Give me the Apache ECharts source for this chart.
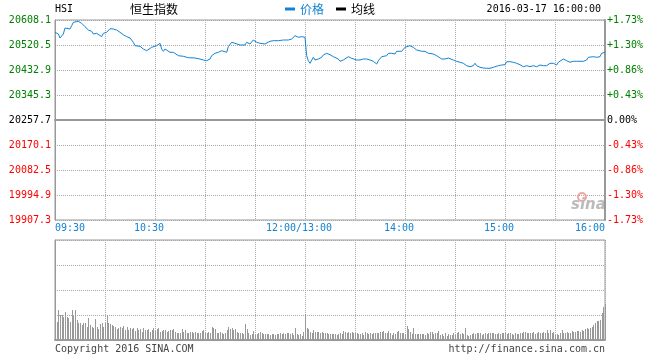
<!DOCTYPE html>
<html><head><meta charset="utf-8">
<script src="https://cdn.jsdelivr.net/npm/echarts@6/dist/echarts.min.js"></script>
<style>html,body{margin:0;padding:0;background:#fff}#c{width:660px;height:360px}</style>
</head><body><div id="c"></div>
<script>
// previous close and axis step (index points)
const preClose = 20257.7;
const priceStep = 87.6;

// [minute since 09:30 (trading minutes), price]
const morningPrices = [
[0,20565.0],[2,20559.0],[3,20545.0],[5,20559.0],[6,20580.1],[7,20573.1],[9,20576.6],[10,20588.1],[11,20600.0],[12,20605.6],
[14,20603.5],[16,20596.5],[18,20584.6],[20,20573.1],[22,20568.5],[23,20559.0],[24,20553.1],[25,20561.5],[26,20556.6],[28,20549.6],
[29,20561.5],[30,20568.5],[31,20565.0],[32,20568.5],[33,20577.6],[35,20576.6],[37,20573.1],[39,20565.0],[41,20556.6],[43,20549.6],
[45,20545.0],[47,20530.0],[48,20518.0],[49,20512.4],[51,20515.9],[52,20518.0],[53,20506.5],[55,20500.5],[56,20506.5],[58,20512.4],
[59,20512.4],[61,20518.0],[62,20512.4],[63,20526.5],[64,20506.5],[65,20498.4],[66,20506.5],[67,20500.5],[69,20494.9],[71,20494.9],
[72,20489.0],[74,20483.0],[75,20486.5],[77,20480.9],[78,20477.4],[80,20476.0],[84,20474.9],[85,20477.4],[87,20471.4],[89,20467.9],
[90,20471.4],[91,20465.5],[93,20471.4],[94,20483.0],[96,20491.4],[98,20494.9],[100,20500.5],[101,20503.0],[103,20494.9],[104,20514.5],
[106,20530.0],[107,20533.5],[108,20526.5],[109,20530.0],[111,20520.5],[112,20518.0],[114,20520.5],[115,20530.0],[117,20524.0],[118,20518.0],
[119,20538.0],[120,20533.5],[121,20530.0],[122,20532.1],[123,20526.5],[124,20530.0],[126,20524.0],[127,20530.0],[129,20533.5],[131,20535.6],
[132,20538.0],[134,20535.6],[135,20535.6],[137,20538.0],[138,20533.5],[140,20538.0],[142,20541.5],[143,20547.5],[144,20553.1],[146,20547.5],
[148,20549.6],[150,20547.5]
];
const afternoonPrices = [
[151,20483.0],[152,20465.5],[153,20456.4],[155,20477.4],[156,20467.9],[157,20463.4],[158,20471.4],[160,20477.4],[161,20485.5],[163,20491.4],
[165,20486.5],[167,20479.5],[168,20483.0],[170,20471.4],[171,20463.4],[173,20467.9],[174,20474.9],[176,20479.5],[178,20473.9],[179,20467.9],
[181,20467.9],[183,20467.9],[185,20471.4],[187,20471.4],[189,20467.9],[191,20463.4],[193,20453.9],[194,20465.5],[196,20479.5],[197,20479.5],
[199,20483.0],[200,20491.4],[202,20491.4],[204,20489.0],[205,20498.4],[206,20491.4],[208,20498.4],[209,20498.4],[210,20512.4],[211,20518.0],
[213,20518.0],[214,20512.4],[215,20512.4],[217,20503.0],[218,20500.5],[220,20498.4],[221,20503.0],[222,20498.4],[224,20491.4],[225,20494.9],
[227,20489.0],[229,20483.0],[230,20477.4],[232,20471.4],[233,20465.5],[234,20471.4],[236,20474.9],[237,20471.4],[239,20467.9],[241,20463.4],
[242,20459.9],[245,20456.4],[247,20448.0],[249,20444.5],[251,20448.0],[252,20456.4],[253,20448.0],[255,20442.4],[257,20439.9],[259,20438.9],
[261,20438.9],[263,20442.4],[264,20448.0],[266,20448.0],[268,20450.4],[270,20451.5],[271,20462.0],[273,20462.0],[275,20459.9],[276,20453.9],
[277,20456.4],[279,20451.5],[280,20456.4],[281,20444.5],[283,20448.0],[285,20444.5],[287,20448.0],[288,20451.5],[289,20444.5],[291,20450.4],
[293,20448.0],[294,20453.9],[295,20448.0],[297,20456.4],[298,20463.4],[299,20456.4],[301,20450.4],[302,20459.9],[303,20465.5],[305,20471.4],
[307,20465.5],[308,20465.5],[309,20459.9],[311,20463.4],[313,20463.4],[315,20463.4],[317,20463.4],[319,20467.9],[320,20477.4],[321,20477.4],
[323,20479.5],[325,20477.4],[327,20479.5],[328,20491.4],[329,20494.9],[330,20494.9]
];

// volume per minute (relative units, index = minute 0..330)
const volumes = [
18,
18.3,30,25,25,23.3,28.3,23.3,21.7,18.3,30,
24,30,20,17.3,16.7,15,17.3,16.7,13.3,21.7,
15,13.3,11.7,20.7,13.3,10.7,16,17.3,13.3,16.7,
25,17.3,16,15,14,13.3,10.7,11.7,13.3,11.7,
14,10,13.3,10,11.7,10.7,11.7,9.3,11.7,10,
10.7,8.3,12.3,10,10,10.7,8.3,10,11.7,9.3,
10.7,11.7,8.3,9.3,10,10,8.3,9.3,10,10,
10.7,8.3,6.7,7.3,6.7,10.7,8.3,10,6.7,7.3,
8.3,8.3,7.3,8.3,6.7,6.7,6.7,9.3,10,7.3,
6.7,8.3,7.3,12.7,11.7,10.7,7.3,6.7,8.3,6.7,
6,7.3,10,12.7,10.7,12.3,10,10.7,8.3,7.3,
6.7,6.7,6,16,10.7,7.3,5,6,9.3,5,
6,7.3,8.3,6.7,6,6,6,6,5,6,
6,5,6,6,6.7,6,6.7,6,7.3,6.7,
6,6.7,5,11.7,6,5,6,4,8.3,25.7,
11.7,10.7,8.3,6.7,10,8.3,8.3,8.3,7.3,8.3,
7.3,6.7,6.7,
6,6,6,6,6,5,6,7.3,6,9.3,
8.3,6.7,8.3,6.7,8.3,7.3,7.3,6.7,6,6,
7.3,5,8.3,6.7,6,7.3,6,6.7,6.7,6.7,
7.3,8.3,8.3,9.3,6.7,7.3,9.3,6.7,5,6.7,
6,8.3,9.3,7.3,7.3,6.7,6,14,10.7,8.3,
6,11.7,6,6,6,6,6,6,5,6.7,
6,8.3,8.3,6,6.7,6.7,9.3,5,6,4,
6.7,4,6,5,5,6.7,5,6.7,8.3,6,
6.7,6,11.7,5,4,5,6,7.3,6,6.7,
7.3,7.3,5,6,6.7,6,6.7,6.7,7.3,6.7,
6,6,7.3,6,7.3,7.3,6.7,6,6.7,6.7,
6,5,6.7,6,6,7.3,7.3,8.3,8.3,6.7,
6.7,7.3,6.7,8.3,6,6.7,8.3,6.7,7.3,8.3,
6.7,10,7.3,10,6.7,8.3,5,6,5,7.3,
10,7.3,7.3,8.3,7.3,7.3,9.3,8.3,8.3,9.3,
9.3,8.3,10,9.3,10.7,11.7,10.7,11.7,13.3,15,
16.7,19.3,19.3,20,26.7,33.3,
36
];

const tickMinutes = [0, 60, 150, 210, 270, 330];
const tickLabels = ['09:30', '10:30', '12:00/13:00', '14:00', '15:00', '16:00'];

const mono = 'DejaVu Sans Mono';
const cjk = 'Noto Sans CJK SC';
const blue = '#1383d1';
const grey = '#aaa';
const clear = 'rgba(0,0,0,0)';
const gridLine = {show: true, lineStyle: {color: grey, width: 1, type: [1, 1]}};
const border = {show: true, lineStyle: {color: '#999', width: 2}};

function levelColor(v) {
  v = Number(v);
  if (Math.abs(v) < 0.05) return '#000';
  return v > 0 ? '#008000' : '#ff0000';
}

const priceData = morningPrices.concat(afternoonPrices).map(d => [d[0], +(d[1] - preClose).toFixed(1)]);
const volData = volumes.map((v, i) => [i, v]);

const chart = echarts.init(document.getElementById('c'));
chart.setOption({
  animation: false,
  backgroundColor: '#fff',
  textStyle: {fontFamily: mono},
  title: [
    {text: 'HSI', left: 55, top: 4, padding: 0, textStyle: {fontFamily: mono, fontSize: 10, fontWeight: 'normal', color: '#000'}},
    {text: '恒生指数', left: 130, top: 3, padding: 0, textStyle: {fontFamily: cjk, fontSize: 12, fontWeight: 'normal', color: '#000'}},
    {text: '2016-03-17 16:00:00', right: 59, top: 4, padding: 0, textStyle: {fontFamily: mono, fontSize: 10, fontWeight: 'normal', color: '#000'}},
    {text: 'Copyright 2016 SINA.COM', left: 55, top: 344, padding: 0, textStyle: {fontFamily: mono, fontSize: 10, fontWeight: 'normal', color: '#444'}},
    {text: 'http://finance.sina.com.cn', right: 55, top: 344, padding: 0, textStyle: {fontFamily: mono, fontSize: 10, fontWeight: 'normal', color: '#444'}}
  ],
  legend: {
    left: 285, top: 3, padding: 0, icon: 'rect', itemWidth: 10, itemHeight: 3, itemGap: 12,
    textStyle: {fontFamily: cjk, fontSize: 12},
    data: [{name: '价格', textStyle: {color: blue}}, {name: '均线', textStyle: {color: '#000'}}]
  },
  graphic: [
    {type: 'circle', shape: {cx: 582, cy: 197, r: 4}, style: {fill: 'none', stroke: '#f3a5a5', lineWidth: 2}, silent: true},
    {type: 'text', x: 571, y: 198, style: {text: 'sina', fill: '#bbb', font: 'italic bold 15px "DejaVu Sans"'}, silent: true}
  ],
  grid: [
    {left: 55, top: 20, width: 550, height: 200, show: true, borderColor: '#999', borderWidth: 1},
    {left: 55, top: 240, width: 550, height: 100, show: true, borderColor: '#999', borderWidth: 1}
  ],
  xAxis: [
    {
      type: 'value', gridIndex: 0, min: 0, max: 330, interval: 30,
      axisLine: border, axisTick: {show: false}, splitLine: gridLine,
      axisLabel: {
        show: true, margin: 3, color: blue, fontFamily: mono, fontSize: 10,
        showMinLabel: true, showMaxLabel: true, hideOverlap: false,
        alignMinLabel: 'left', alignMaxLabel: 'right',
        formatter: function (v) {
          const i = tickMinutes.indexOf(Math.round(v));
          if (i < 0) return '';
          if (i === 0 || i === tickMinutes.length - 1) return tickLabels[i];
          return '{c|' + tickLabels[i] + '}';
        },
        rich: {c: {padding: [0, 12, 0, 0], color: blue, fontFamily: mono, fontSize: 10}}
      }
    },
    {
      type: 'value', gridIndex: 1, min: 0, max: 330, interval: 30,
      axisLine: border, axisTick: {show: false}, splitLine: gridLine, axisLabel: {show: false}
    }
  ],
  yAxis: [
    {
      type: 'value', gridIndex: 0, min: -4 * priceStep, max: 4 * priceStep, interval: priceStep,
      axisLine: {show: true, lineStyle: {color: '#999', width: 1}}, axisTick: {show: false},
      splitLine: {show: true, lineStyle: {color: [grey, grey, grey, grey, clear, grey, grey, grey, grey], width: 1, type: [1, 1]}},
      axisLabel: {
        margin: 4, fontFamily: mono, fontSize: 10, padding: [0, 0, 6, 0],
        formatter: v => (preClose + Number(v)).toFixed(1),
        color: levelColor
      }
    },
    {
      type: 'value', gridIndex: 0, position: 'right', min: -4 * priceStep, max: 4 * priceStep, interval: priceStep,
      axisLine: border, axisTick: {show: false}, splitLine: {show: false},
      axisLabel: {
        margin: 2, fontFamily: mono, fontSize: 10, padding: [0, 0, 6, 0],
        formatter: function (v) {
          v = Number(v);
          if (Math.abs(v) < 0.05) return '0.00%';
          const p = Math.abs(v / preClose * 100).toFixed(2);
          return (v > 0 ? '+' : '-') + p + '%';
        },
        color: levelColor
      }
    },
    {
      type: 'value', gridIndex: 1, min: 0, max: 100, interval: 25,
      axisLine: {show: true, lineStyle: {color: '#999', width: 1}}, axisTick: {show: false}, splitLine: gridLine, axisLabel: {show: false}
    },
    {
      // previous-close reference line (dashed black)
      type: 'value', gridIndex: 0, position: 'left', min: -4 * priceStep, max: 4 * priceStep, interval: 4 * priceStep,
      axisLine: {show: false}, axisTick: {show: false}, axisLabel: {show: false},
      splitLine: {show: true, lineStyle: {color: [clear, '#000', clear], width: 1, type: [2, 1]}}
    }
  ],
  series: [
    {
      name: '价格', type: 'line', xAxisIndex: 0, yAxisIndex: 0, data: priceData,
      symbol: 'none', color: blue, lineStyle: {color: blue, width: 1}, z: 5
    },
    {name: '均线', type: 'line', xAxisIndex: 0, yAxisIndex: 0, data: [], color: '#000', symbol: 'none'},
    {
      name: '成交量', type: 'custom', xAxisIndex: 1, yAxisIndex: 2, data: volData,
      renderItem: function (params, api) {
        const top = api.coord([api.value(0), api.value(1)]);
        const base = api.coord([api.value(0), 0]);
        const x = Math.round(top[0]);
        const y = Math.round(top[1]);
        return {type: 'rect', shape: {x: x, y: y, width: 1, height: Math.round(base[1]) - y}, style: {fill: '#999'}};
      }
    }
  ]
});
</script>
</body></html>
